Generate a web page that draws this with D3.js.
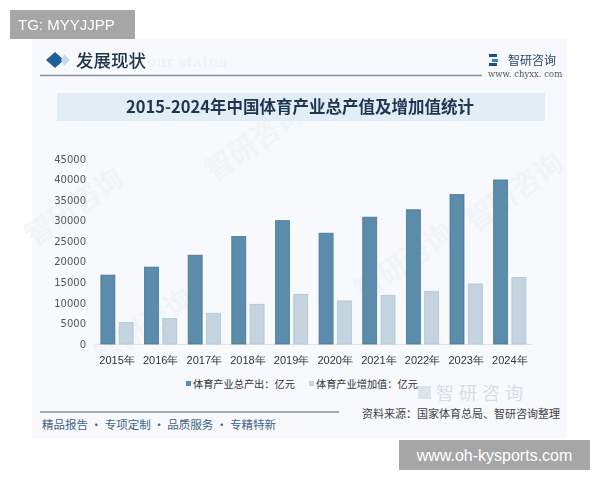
<!DOCTYPE html>
<html><head><meta charset="utf-8">
<script src="https://cdn.jsdelivr.net/npm/d3@7"></script>
<style>body{margin:0;background:#fff;}svg{display:block;font-family:"Noto Sans CJK SC","Noto Sans",sans-serif;}</style>
</head><body><svg id="c" width="600" height="480"></svg>
<script>
const years = ["2015年","2016年","2017年","2018年","2019年","2020年","2021年","2022年","2023年","2024年"];
const seriesNames = ["体育产业总产出：亿元","体育产业增加值：亿元"];
const totalOutput = [16750, 18700, 21600, 26150, 30000, 26950, 30850, 32650, 36350, 39900];
const addedValue = [5200, 6170, 7470, 9650, 12080, 10470, 11850, 12820, 14600, 16150];
const yTicks = [0,5000,10000,15000,20000,25000,30000,35000,40000,45000];
const colors = ["#5b8cab","#c3d3df"];
const strokes = ["#4a7894","#b3c5d3"];

const svg = d3.select("#c");
// panel
svg.append("rect").attr("x",32).attr("y",39).attr("width",535).attr("height",399).attr("fill","#f7f9fc");
// faint watermarks
const wm = svg.append("g").attr("fill","#e8eef3").attr("font-size",28).attr("font-weight","bold").attr("opacity",0.5);
[[80,215],[260,150],[410,270],[150,335],[520,200]].forEach(p=>{
  wm.append("text").attr("transform",`translate(${p[0]},${p[1]}) rotate(-35)`).attr("text-anchor","middle").text("智研咨询");
});

// TG box
svg.append("rect").attr("x",10).attr("y",10).attr("width",125).attr("height",29).attr("fill","#a6a6a6");
svg.append("text").attr("x",18).attr("y",30).attr("fill","#fff").attr("font-size",15).attr("font-family","Liberation Sans, Arial, sans-serif").text("TG: MYYJJPP");

// header
svg.append("path").attr("d","M 55 52 L 64 60 L 55 68 L 46 60 Z").attr("fill","#1e5f95");
svg.append("path").attr("d","M 64 54 L 70 60 L 64 66 L 61 60 Z").attr("fill","#c9d8e6");
svg.append("text").attr("x",147).attr("y",67).attr("font-size",14).attr("fill","#eef1f5").attr("font-family","DejaVu Serif, serif").attr("font-weight","bold").text("our status");
svg.append("text").attr("x",76).attr("y",67).attr("font-size",17.5).attr("font-weight",500).attr("fill","#1d3449").text("发展现状");
svg.append("line").attr("x1",40).attr("x2",482).attr("y1",75.5).attr("y2",75.5).attr("stroke","#8a8f96").attr("stroke-width",1.5);
// logo
svg.append("rect").attr("x",489).attr("y",54).attr("width",8).attr("height",3).attr("fill","#1e4f80");
svg.append("rect").attr("x",492).attr("y",59).attr("width",6).attr("height",3).attr("fill","#2a8bc0");
svg.append("rect").attr("x",489).attr("y",63).attr("width",8).attr("height",3).attr("fill","#1e4f80");
svg.append("text").attr("x",508).attr("y",65).attr("font-size",12).attr("fill","#2b4866").text("智研咨询");
svg.append("text").attr("x",488).attr("y",77).attr("font-size",8.5).attr("fill","#555").attr("font-family","DejaVu Serif, serif").text("www. chyxx. com");

// title band
svg.append("rect").attr("x",57).attr("y",93).attr("width",488).attr("height",28).attr("fill","#e2edf6");
svg.append("text").attr("x",300).attr("y",113).attr("text-anchor","middle").attr("font-size",16.5).attr("font-weight","bold").attr("fill","#1f3550").text("2015-2024年中国体育产业总产值及增加值统计");

// scales
const y = d3.scaleLinear().domain([0,45000]).range([344,159]);
const x0 = d3.scaleBand().domain(years).range([95.2,531.6]).paddingInner(0.26).paddingOuter(0.13);
const x1 = d3.scaleBand().domain([0,1]).range([0,x0.bandwidth()]).paddingInner(0.235);

// y axis
const ya = svg.append("g").attr("transform","translate(86,0)").call(d3.axisLeft(y).tickValues(yTicks).tickFormat(d3.format("d")).tickSize(0).tickPadding(0));
ya.select(".domain").remove();
ya.selectAll("text").attr("font-size",10).attr("fill","#555").attr("font-family","DejaVu Sans, sans-serif");

// baseline
svg.append("line").attr("x1",95).attr("x2",532).attr("y1",344.5).attr("y2",344.5).attr("stroke","#dde3e8");

const data = years.map((yr,i)=>({yr, v:[totalOutput[i], addedValue[i]]}));
const g = svg.append("g");
const grp = g.selectAll("g").data(data).join("g").attr("transform",d=>`translate(${x0(d.yr)},0)`);
grp.selectAll("rect").data(d=>d.v.map((v,k)=>({v,k}))).join("rect")
  .attr("x",d=>x1(d.k)).attr("width",x1.bandwidth())
  .attr("y",d=>y(d.v)).attr("height",d=>y(0)-y(d.v))
  .attr("fill",d=>colors[d.k]).attr("stroke",d=>strokes[d.k]).attr("stroke-width",0.8);

// x axis
const xa = svg.append("g").attr("transform","translate(0,344)").call(d3.axisBottom(x0).tickSize(0).tickPadding(12));
xa.select(".domain").remove();
xa.selectAll("text").attr("font-size",11).attr("fill","#333");

// legend
const legX = [186, 309];
seriesNames.forEach((n,i)=>{
  svg.append("rect").attr("x",legX[i]).attr("y",381).attr("width",5).attr("height",5).attr("fill",colors[i]);
  svg.append("text").attr("x",legX[i]+7).attr("y",388).attr("font-size",10.2).attr("fill","#333").text(n);
});

// big faint logo watermark
svg.append("rect").attr("x",418).attr("y",386).attr("width",13).attr("height",13).attr("fill","#dde3e9");
svg.append("text").attr("x",436).attr("y",400).attr("font-size",18).attr("fill","#d8dee4").attr("letter-spacing",5).text("智研咨询");

// source
svg.append("text").attr("x",560).attr("y",418).attr("text-anchor","end").attr("font-size",11).attr("fill","#444").text("资料来源：国家体育总局、智研咨询整理");

// footer
svg.append("line").attr("x1",40).attr("x2",339).attr("y1",412).attr("y2",412).attr("stroke","#8a8f96").attr("stroke-width",1.5);
svg.append("text").attr("x",42).attr("y",428.5).attr("font-size",11.5).attr("fill","#3e6486").text("精品报告 · 专项定制 · 品质服务 · 专精特新");

// bottom right box
svg.append("rect").attr("x",399).attr("y",440).attr("width",191).attr("height",30).attr("fill","#a6a6a6");
svg.append("text").attr("x",494.5).attr("y",461).attr("text-anchor","middle").attr("fill","#fff").attr("font-size",16).attr("font-family","Liberation Sans, Arial, sans-serif").text("www.oh-kysports.com");
</script></body></html>
